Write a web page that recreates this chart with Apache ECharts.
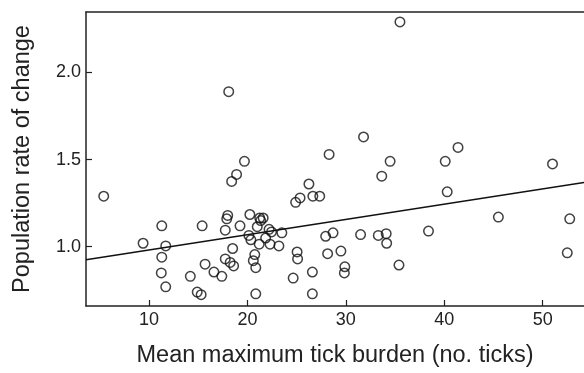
<!DOCTYPE html>
<html>
<head>
<meta charset="utf-8">
<script src="https://cdn.jsdelivr.net/npm/echarts@6/dist/echarts.min.js"></script>
<style>
  html, body { margin: 0; padding: 0; background: #fff; }
  #main { width: 584px; height: 373px; }
</style>
</head>
<body>
<div id="main"></div>
<script>
// tick burden (x) vs population rate of change (y), one entry per site
const tickBurden = [
  5.4, 9.4, 11.3, 11.7, 11.3, 11.25, 11.7, 14.2, 14.9, 15.3,
  15.4, 15.7, 16.6, 17.4, 17.75, 17.9, 18.0, 17.75, 18.25, 18.6,
  18.5, 18.4, 18.9, 19.7, 19.25, 20.25, 18.1, 28.3, 34.5, 33.65,
  26.25, 25.35, 24.9, 26.65, 27.35, 21.25, 21.6, 21.35, 21.0, 22.2,
  22.45, 23.5, 20.15, 20.35, 21.85, 21.2, 22.3, 23.2, 20.75, 20.6,
  20.85, 20.85, 24.65, 25.05, 25.1, 26.6, 26.6, 27.95, 28.7, 28.15,
  29.5, 29.9, 29.85, 31.5, 33.3, 34.1, 34.15, 35.4, 38.4, 40.3,
  45.5, 52.75, 52.5, 41.4, 40.1, 51.0, 35.5, 31.8
];
const rateOfChange = [
  1.29, 1.02, 1.12, 1.005, 0.94, 0.85, 0.77, 0.83, 0.74, 0.725,
  1.12, 0.90, 0.855, 0.83, 1.095, 1.16, 1.18, 0.93, 0.91, 0.89,
  0.99, 1.375, 1.415, 1.49, 1.12, 1.185, 1.89, 1.53, 1.49, 1.405,
  1.36, 1.28, 1.255, 1.29, 1.29, 1.165, 1.165, 1.15, 1.115, 1.10,
  1.085, 1.08, 1.065, 1.04, 1.05, 1.015, 1.015, 1.005, 0.955, 0.92,
  0.88, 0.73, 0.82, 0.97, 0.93, 0.855, 0.73, 1.06, 1.08, 0.96,
  0.975, 0.885, 0.85, 1.07, 1.065, 1.075, 1.02, 0.895, 1.09, 1.315,
  1.17, 1.16, 0.965, 1.57, 1.49, 1.475, 2.29, 1.63
];

// fitted line end points
const fitX = [3.6, 54.2];
const fitY = [0.926, 1.368];

const xTicks = [10, 20, 30, 40, 50];
const yTicks = [1.0, 1.5, 2.0];

const ink = '#222';
const font = 'Liberation Sans, Arial, Helvetica, sans-serif';

const points = tickBurden.map((x, i) => [x, rateOfChange[i]]);
const fitLine = fitX.map((x, i) => [x, fitY[i]]);

const chart = echarts.init(document.getElementById('main'));

chart.setOption({
  animation: false,
  backgroundColor: '#fff',
  grid: { left: 86, right: 0, top: 12, bottom: 63 },
  xAxis: [
    {
      type: 'value',
      min: 3.6,
      max: 54.2,
      name: 'Mean maximum tick burden (no. ticks)',
      nameLocation: 'middle',
      nameGap: 38,
      nameTextStyle: { fontFamily: font, fontSize: 23.5, color: ink },
      splitLine: { show: false },
      axisLine: { show: true, lineStyle: { color: ink, width: 1.5 } },
      axisTick: { show: true, inside: true, length: 6, customValues: xTicks,
        lineStyle: { color: ink, width: 1.2 } },
      axisLabel: { customValues: xTicks, margin: 5, fontFamily: font, fontSize: 18, color: ink }
    },
    {
      type: 'value',
      position: 'top',
      min: 3.6,
      max: 54.2,
      splitLine: { show: false },
      axisLine: { show: true, lineStyle: { color: ink, width: 1.5 } },
      axisTick: { show: false },
      axisLabel: { show: false }
    }
  ],
  yAxis: {
    type: 'value',
    min: 0.66,
    max: 2.347,
    name: 'Population rate of change',
    nameLocation: 'middle',
    nameGap: 51,
    nameTextStyle: { fontFamily: font, fontSize: 23.5, color: ink },
    splitLine: { show: false },
    axisLine: { show: true, lineStyle: { color: ink, width: 1.5 } },
    axisTick: { show: true, inside: true, length: 6, customValues: yTicks,
      lineStyle: { color: ink, width: 1.2 } },
    axisLabel: {
      customValues: yTicks, margin: 5, fontFamily: font, fontSize: 18, color: ink,
      formatter: v => v.toFixed(1)
    }
  },
  series: [
    {
      type: 'scatter',
      data: points,
      symbol: 'circle',
      symbolSize: 9.5,
      itemStyle: { color: 'rgba(255,255,255,0)', borderColor: '#111', borderWidth: 1.5 },
      z: 3
    },
    {
      type: 'line',
      data: fitLine,
      showSymbol: false,
      lineStyle: { color: '#111', width: 1.5 },
      z: 2
    }
  ]
});
</script>
</body>
</html>
